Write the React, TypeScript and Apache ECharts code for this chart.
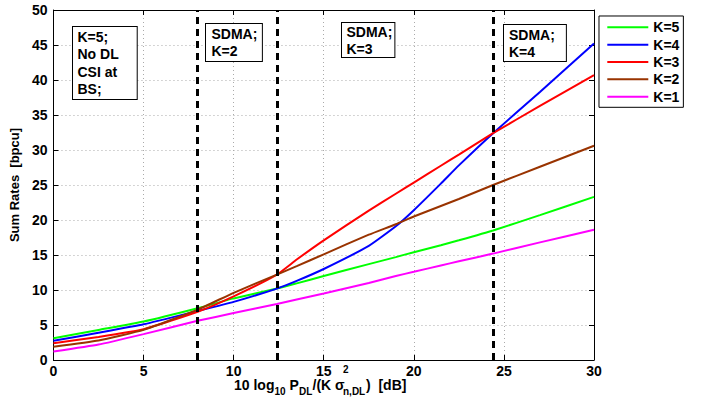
import React, { useEffect, useRef } from "react";
import * as echarts from "echarts";

// ---- data ----
const xValues = [0, 2.5, 5, 8, 10, 12.4, 13.5, 15, 17.5, 19, 20, 21.5, 22.5, 24.4, 27, 30];
const seriesNames = ["K=5", "K=4", "K=3", "K=2", "K=1"];
const k5 = [3.1, 4.3, 5.5, 7.4, 8.8, 10.2, 10.95, 12.0, 13.7, 14.7, 15.4, 16.4, 17.1, 18.5, 20.7, 23.3];
const k4 = [2.75, 3.9, 5.1, 7.0, 8.3, 10.2, 11.3, 13.0, 16.3, 19.1, 21.4, 25.2, 27.8, 32.4, 38.3, 45.2];
const k3 = [2.4, 3.3, 4.4, 6.9, 9.1, 12.2, 14.35, 17.1, 21.35, 23.75, 25.35, 27.75, 29.35, 32.4, 36.3, 40.7];
const k2 = [1.9, 2.8, 4.3, 7.2, 9.6, 12.2, 13.4, 15.1, 17.9, 19.4, 20.5, 22.0, 23.0, 25.0, 27.6, 30.6];
const k1 = [1.2, 2.2, 3.7, 5.6, 6.7, 8.0, 8.65, 9.5, 11.0, 12.0, 12.6, 13.5, 14.1, 15.2, 16.8, 18.6];
const seriesValues = [k5, k4, k3, k2, k1];
const seriesColors = ["#00ff00", "#0000ff", "#ff0000", "#993300", "#ff00ff"];
const regionBoundaries = [8, 12.4, 24.4];
const annotations = [
  "K=5;\nNo DL\nCSI at\nBS;",
  "SDMA;\nK=2",
  "SDMA;\nK=3",
  "SDMA;\nK=4",
];
const yAxisTitle = "Sum Rates  [bpcu]";

const FF = '"Liberation Sans", Arial, Helvetica, sans-serif';
const bold = (s: number) => `bold ${s}px ${FF}`;

export default function App() {
  const ref = useRef<HTMLDivElement>(null);
  useEffect(() => {
    if (!ref.current) return;
    const chart = echarts.init(ref.current, undefined, { renderer: "svg" });

    const series: any[] = seriesNames.map((name, i) => ({
      name,
      type: "line",
      showSymbol: false,
      symbol: "none",
      smooth: 0.15,
      data: xValues.map((x, j) => [x, seriesValues[i][j]]),
      lineStyle: { color: seriesColors[i], width: 2 },
      itemStyle: { color: seriesColors[i] },
      z: 3,
    }));
    series.push({
      name: "boundaries",
      type: "line",
      data: [],
      z: 4,
      markLine: {
        silent: true,
        symbol: "none",
        label: { show: false },
        lineStyle: { color: "#000", width: 3, type: [7, 5] },
        data: regionBoundaries.map((v) => ({ xAxis: v })),
      },
    });

    const annoBoxes = [
      { x: 73, y: 27, pad: [1, 18, 1, 4.5], lh: 17.5 },
      { x: 206, y: 24, pad: [1.5, 4.5, 1.5, 5.5], lh: 17 },
      { x: 342, y: 23, pad: [0, 2, 0, 4.5], lh: 17 },
      { x: 504, y: 25, pad: [1, 11, 1, 5], lh: 17 },
    ];

    const xNameParts = [
      { t: "10 log", x: 234, y: 378, s: 14 },
      { t: "10", x: 274.5, y: 386, s: 10 },
      { t: " P", x: 285.5, y: 378, s: 14 },
      { t: "DL", x: 299, y: 386, s: 10 },
      { t: "/(K \u03c3", x: 312.5, y: 378, s: 14 },
      { t: "2", x: 343, y: 364, s: 10 },
      { t: "n,DL", x: 343, y: 386, s: 10 },
      { t: ")  [dB]", x: 366, y: 378, s: 14 },
    ];

    const graphic: any[] = [
      ...annotations.map((text, i) => ({
        type: "text",
        x: annoBoxes[i].x,
        y: annoBoxes[i].y,
        z: 10,
        style: {
          text,
          font: bold(14),
          fill: "#000",
          lineHeight: annoBoxes[i].lh,
          backgroundColor: "#fff",
          borderColor: "#000",
          borderWidth: 1,
          padding: annoBoxes[i].pad,
          verticalAlign: "top",
          align: "left",
        },
      })),
      ...xNameParts.map((p) => ({
        type: "text",
        x: p.x,
        y: p.y,
        style: {
          text: p.t,
          font: bold(p.s),
          fill: "#000",
          verticalAlign: "top",
          align: "left",
        },
      })),
    ];

    const axisLabelStyle = {
      color: "#000",
      fontWeight: "bold" as const,
      fontSize: 14,
      fontFamily: FF,
    };

    chart.setOption({
      animation: false,
      backgroundColor: "#fff",
      grid: { left: 51, right: 111, top: 10, bottom: 38, containLabel: false },
      legend: {
        data: seriesNames,
        orient: "vertical",
        left: 599,
        top: 16,
        icon: "rect",
        itemWidth: 41,
        itemHeight: 2,
        itemGap: 3.35,
        padding: [4.3, 4, 3.6, 8.3],
        backgroundColor: "#fff",
        borderColor: "#000",
        borderWidth: 1,
        borderRadius: 0,
        textStyle: { color: "#000", fontWeight: "bold", fontSize: 14, fontFamily: FF, lineHeight: 14 },
      },
      xAxis: [
        {
          type: "value",
          position: "bottom",
          min: 0,
          max: 30,
          interval: 5,
          axisLine: { show: true, onZero: false, lineStyle: { color: "#000", width: 1 } },
          axisTick: { show: true, inside: true, length: 5, lineStyle: { color: "#000" } },
          axisLabel: { ...axisLabelStyle, margin: 4 },
          splitLine: { show: true, lineStyle: { color: "#aaaaaa", width: 1, type: [1, 3] } },
        },
        {
          type: "value",
          position: "top",
          min: 0,
          max: 30,
          interval: 5,
          axisLine: { show: true, onZero: false, lineStyle: { color: "#000", width: 1 } },
          axisTick: { show: true, inside: true, length: 5, lineStyle: { color: "#000" } },
          axisLabel: { show: false },
          splitLine: { show: false },
        },
      ],
      yAxis: [
        {
          type: "value",
          position: "left",
          min: 0,
          max: 50,
          interval: 5,
          name: yAxisTitle,
          nameLocation: "middle",
          nameRotate: 90,
          nameGap: 26,
          nameTextStyle: { color: "#000", fontWeight: "bold", fontSize: 13, fontFamily: FF },
          axisLine: { show: true, onZero: false, lineStyle: { color: "#000", width: 1 } },
          axisTick: { show: true, inside: true, length: 5, lineStyle: { color: "#000" } },
          axisLabel: { ...axisLabelStyle, margin: 6 },
          splitLine: { show: true, lineStyle: { color: "#aaaaaa", width: 1, type: [1, 3] } },
        },
        {
          type: "value",
          position: "right",
          min: 0,
          max: 50,
          interval: 5,
          axisLine: { show: true, onZero: false, lineStyle: { color: "#000", width: 1 } },
          axisTick: { show: true, inside: true, length: 5, lineStyle: { color: "#000" } },
          axisLabel: { show: false },
          splitLine: { show: false },
        },
      ],
      series,
      graphic,
    });

    return () => chart.dispose();
  }, []);

  return (
    <div
      ref={ref}
      style={{ position: "fixed", left: 0, top: 0, width: 705, height: 398, background: "#fff" }}
    />
  );
}
